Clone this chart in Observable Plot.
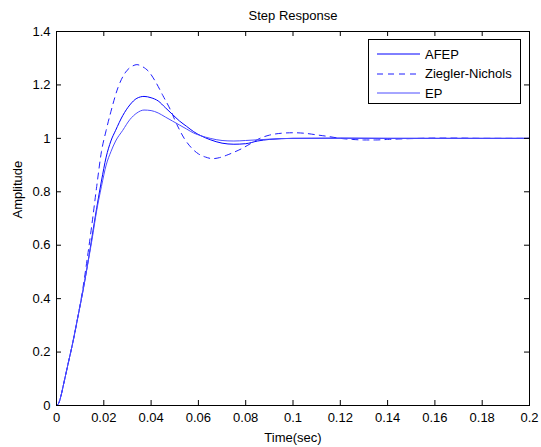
<!DOCTYPE html>
<html>
<head>
<meta charset="utf-8">
<script src="https://cdn.jsdelivr.net/npm/d3@7"></script>
<script src="https://cdn.jsdelivr.net/npm/@observablehq/plot@0.6"></script>
<style>
  body { margin: 0; background: #fff; }
  #wrap { position: relative; width: 541px; height: 447px; font-family: "Liberation Sans", Arial, sans-serif; }
  #legend { position: absolute; left: 368px; top: 39px; width: 153px; height: 65px; border: 1px solid #000; background: #fff; box-sizing: border-box; font-size: 13px; }
  .row { position: absolute; left: 0; height: 20px; display: flex; align-items: center; }
  .row svg { margin-left: 8px; margin-right: 5px; }
</style>
</head>
<body>
<div id="wrap"><div id="legend"></div></div>
<script>
const seriesNames = ["AFEP", "Ziegler-Nichols", "EP"];
const seriesColors = ["#0000ff", "#1f1fff", "#4d4dff"];
const seriesDash = [null, "6,5", null];

const tAFEP = [0,0.001,0.002,0.003,0.005,0.007,0.009,0.011,0.013,0.015,0.017,0.019,0.021,0.023,0.025,0.028,0.031,0.034,0.037,0.040,0.043,0.046,0.049,0.052,0.055,0.058,0.061,0.065,0.070,0.075,0.080,0.085,0.090,0.100,0.120,0.140,0.160,0.180,0.200];
const vAFEP = [0,0.01,0.04,0.08,0.16,0.24,0.33,0.42,0.52,0.63,0.74,0.84,0.93,0.99,1.03,1.085,1.125,1.15,1.157,1.152,1.14,1.115,1.09,1.065,1.045,1.025,1.01,0.995,0.982,0.978,0.98,0.99,0.996,1.0,1.001,1.0,1.0,1.0,1.0];

const tZN = [0,0.001,0.002,0.003,0.005,0.007,0.009,0.011,0.013,0.015,0.017,0.019,0.021,0.023,0.026,0.029,0.032,0.034,0.036,0.039,0.042,0.045,0.048,0.051,0.054,0.057,0.060,0.063,0.066,0.069,0.072,0.075,0.078,0.082,0.086,0.090,0.095,0.100,0.105,0.110,0.115,0.120,0.125,0.130,0.135,0.140,0.150,0.160,0.170,0.180,0.200];
const vZN = [0,0.01,0.04,0.08,0.16,0.24,0.33,0.43,0.55,0.68,0.82,0.95,1.03,1.10,1.19,1.245,1.27,1.276,1.27,1.25,1.21,1.16,1.11,1.05,1.0,0.965,0.942,0.93,0.924,0.928,0.937,0.948,0.96,0.98,1.0,1.012,1.019,1.021,1.019,1.013,1.007,1.0,0.996,0.994,0.994,0.996,0.999,1.001,1.001,1.0,1.0];

const tEP = [0,0.001,0.002,0.003,0.005,0.007,0.009,0.011,0.013,0.015,0.017,0.019,0.021,0.023,0.025,0.028,0.031,0.034,0.037,0.040,0.043,0.046,0.049,0.052,0.055,0.058,0.061,0.065,0.070,0.075,0.080,0.090,0.100,0.120,0.140,0.160,0.180,0.200];
const vEP = [0,0.01,0.04,0.08,0.16,0.24,0.33,0.42,0.52,0.62,0.73,0.82,0.90,0.95,0.99,1.03,1.07,1.095,1.106,1.104,1.095,1.08,1.065,1.05,1.035,1.02,1.01,1.0,0.992,0.99,0.992,0.997,1.0,1.0,1.0,1.0,1.0,1.0];

const xTicks = [0,0.02,0.04,0.06,0.08,0.1,0.12,0.14,0.16,0.18,0.2];
const xTickLabels = ["0","0.02","0.04","0.06","0.08","0.1","0.12","0.14","0.16","0.18","0.2"];
const yTicks = [0,0.2,0.4,0.6,0.8,1,1.2,1.4];
const yTickLabels = ["0","0.2","0.4","0.6","0.8","1","1.2","1.4"];

const titleText = "Step Response";
const xLabel = "Time(sec)";
const yLabel = "Amplitude";

const series = [
  {name: seriesNames[0], t: tAFEP, v: vAFEP},
  {name: seriesNames[1], t: tZN, v: vZN},
  {name: seriesNames[2], t: tEP, v: vEP}
];

const W = 541, H = 447, mT = 31, mB = 42, mL = 56, mR = 12;
const pw = W - mL - mR, ph = H - mT - mB;

const lineMarks = series.map((s, i) =>
  Plot.line(s.t.map((t, j) => ({t, v: s.v[j]})), {
    x: "t", y: "v", stroke: seriesColors[i], strokeWidth: 1,
    curve: "monotone-x",
    strokeDasharray: seriesDash[i] || undefined
  })
);

const chart = Plot.plot({
  width: W, height: H,
  marginTop: mT, marginBottom: mB, marginLeft: mL, marginRight: mR,
  style: {fontFamily: '"Liberation Sans", Arial, sans-serif', fontSize: "13px", background: "white", color: "black"},
  x: {domain: [0, 0.2]},
  y: {domain: [0, 1.4]},
  marks: [
    ...lineMarks,
    Plot.frame({stroke: "black", strokeWidth: 1}),
    Plot.tickX(xTicks, {x: d => d, stroke: "black", insetTop: ph - 5}),
    Plot.tickX(xTicks, {x: d => d, stroke: "black", insetBottom: ph - 5}),
    Plot.tickY(yTicks, {y: d => d, stroke: "black", insetRight: pw - 5}),
    Plot.tickY(yTicks, {y: d => d, stroke: "black", insetLeft: pw - 5}),
    Plot.axisX({ticks: xTicks, tickSize: 0, tickPadding: 7, tickFormat: (d) => xTickLabels[xTicks.indexOf(d)], label: null, fontSize: 13}),
    Plot.axisY({ticks: yTicks, tickSize: 0, tickPadding: 6, tickFormat: (d) => yTickLabels[yTicks.indexOf(d)], label: null, fontSize: 13}),
    Plot.text([titleText], {frameAnchor: "top", dy: -16, lineAnchor: "middle", fontSize: 13}),
    Plot.text([xLabel], {frameAnchor: "bottom", dy: 32, lineAnchor: "middle", fontSize: 13}),
    Plot.text([yLabel], {frameAnchor: "left", dx: -39, rotate: -90, lineAnchor: "middle", fontSize: 13})
  ]
});

const wrap = document.getElementById("wrap");
wrap.insertBefore(chart, wrap.firstChild);

const legend = document.getElementById("legend");
seriesNames.forEach((name, i) => {
  const row = document.createElement("div");
  row.className = "row";
  row.style.top = (4 + i * 19.5) + "px";
  const dash = seriesDash[i] ? ` stroke-dasharray="${seriesDash[i]}"` : "";
  row.innerHTML = `<svg width="43" height="6"><line x1="0" y1="3" x2="43" y2="3" stroke="${seriesColors[i]}" stroke-width="1"${dash}/></svg><span>${name}</span>`;
  legend.appendChild(row);
});
</script>
</body>
</html>
